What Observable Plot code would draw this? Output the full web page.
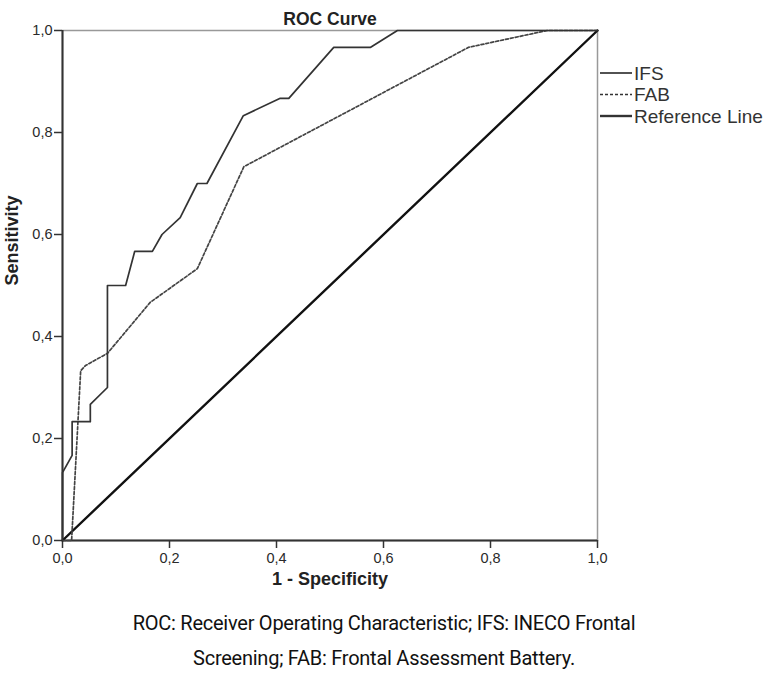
<!DOCTYPE html>
<html>
<head>
<meta charset="utf-8">
<script src="https://cdn.jsdelivr.net/npm/d3@7"></script>
<script src="https://cdn.jsdelivr.net/npm/@observablehq/plot@0.6"></script>
<style>
  html, body { margin: 0; padding: 0; background: #fff; }
  #chart { width: 768px; position: relative; }
  #chart svg g[aria-label*="tick label"],
  #chart svg g[aria-label*="tick label"] text,
  #chart svg .tick text { font-size: 14.5px !important; fill: #2a2a2a; }
  #caption {
    width: 768px; text-align: center; color: #111;
    font-family: "Liberation Sans Narrow", "Roboto", sans-serif;
    font-size: 20px; letter-spacing: -0.25px; line-height: 35px; padding-top: 6px;
  }
</style>
</head>
<body>
<div id="chart"></div>
<div id="caption">ROC: Receiver Operating Characteristic; IFS: INECO Frontal<br>Screening; FAB: Frontal Assessment Battery.</div>
<script>
// IFS ROC curve (1 - specificity, sensitivity)
const ifsX = [0, 0, 0.018, 0.018, 0.052, 0.052, 0.084, 0.084, 0.118, 0.135, 0.168, 0.186, 0.22, 0.252, 0.27, 0.338, 0.407, 0.423, 0.507, 0.576, 0.626, 1];
const ifsY = [0, 0.133, 0.167, 0.233, 0.233, 0.267, 0.3, 0.5, 0.5, 0.567, 0.567, 0.6, 0.633, 0.7, 0.7, 0.833, 0.867, 0.867, 0.967, 0.967, 1, 1];
// FAB ROC curve
const fabX = [0, 0.017, 0.034, 0.043, 0.084, 0.164, 0.252, 0.339, 0.759, 0.906, 1];
const fabY = [0, 0, 0.333, 0.343, 0.367, 0.467, 0.533, 0.733, 0.967, 1, 1];
// Reference line
const refX = [0, 1];
const refY = [0, 1];
const ticks = [0, 0.2, 0.4, 0.6, 0.8, 1.0];
const legendLabels = ["IFS", "FAB", "Reference Line"];

const ifs = ifsX.map((x, i) => ({x, y: ifsY[i]}));
const fab = fabX.map((x, i) => ({x, y: fabY[i]}));
const ref = refX.map((x, i) => ({x, y: refY[i]}));
const fmt = d => d.toFixed(1).replace(".", ",");

const plot = Plot.plot({
  width: 768,
  height: 600,
  marginLeft: 62,
  marginRight: 171,
  marginTop: 30,
  marginBottom: 60,
  style: {fontFamily: "Liberation Sans, Arial, sans-serif", background: "#fff", color: "#2a2a2a"},
  x: {domain: [0, 1]},
  y: {domain: [0, 1]},
  marks: [
    Plot.frame({stroke: "#999", strokeWidth: 1.5}),
    Plot.axisX({ticks, tickFormat: fmt, tickSize: 8, tickPadding: 4, fontSize: 14.5, label: null, stroke: "#333", strokeWidth: 1.5}),
    Plot.axisY({ticks, tickFormat: fmt, tickSize: 8, tickPadding: 2, fontSize: 14.5, label: null, stroke: "#333", strokeWidth: 1.5}),
    Plot.ruleX([0], {stroke: "#333", strokeWidth: 2}),
    Plot.ruleY([0], {stroke: "#333", strokeWidth: 2}),
    Plot.line(ref, {x: "x", y: "y", stroke: "#111", strokeWidth: 2.4}),
    Plot.line(fab, {x: "x", y: "y", stroke: "#444", strokeWidth: 1.7, strokeDasharray: "3,2"}),
    Plot.line(ifs, {x: "x", y: "y", stroke: "#333", strokeWidth: 1.7}),
    Plot.text(["ROC Curve"], {frameAnchor: "top", dy: -18, fontWeight: "bold", fontSize: 17.5, fill: "#222"}),
    Plot.text(["1 - Specificity"], {frameAnchor: "bottom", dy: 44, fontWeight: "bold", fontSize: 18, fill: "#222"}),
    Plot.text(["Sensitivity"], {frameAnchor: "left", dx: -50, rotate: -90, fontWeight: "bold", fontSize: 18, fill: "#222"})
  ]
});

const svg = d3.select(plot);

// Legend
const lg = svg.append("g")
  .attr("font-family", "Liberation Sans, Arial, sans-serif")
  .attr("font-size", 19)
  .attr("text-anchor", "start")
  .attr("fill", "#333");
const styles = [
  {dash: null, w: 1.7},
  {dash: "3,2", w: 1.7},
  {dash: null, w: 2.4}
];
legendLabels.forEach((t, i) => {
  const y = 73 + i * 21.5;
  const l = lg.append("line").attr("x1", 600).attr("x2", 632).attr("y1", y).attr("y2", y)
    .attr("stroke", "#333").attr("stroke-width", styles[i].w);
  if (styles[i].dash) l.attr("stroke-dasharray", styles[i].dash);
  lg.append("text").attr("x", 634).attr("y", y).attr("dy", "0.35em").attr("text-anchor", "start").text(t);
});

document.getElementById("chart").appendChild(plot);
</script>
</body>
</html>
